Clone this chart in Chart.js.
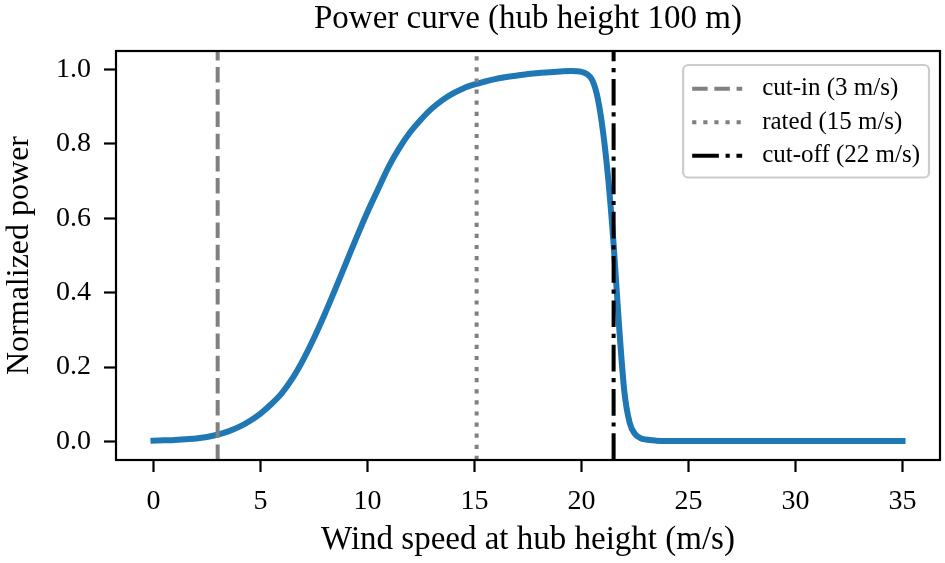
<!DOCTYPE html>
<html><head><meta charset="utf-8">
<script src="https://cdn.jsdelivr.net/npm/chart.js@4/dist/chart.umd.min.js"></script>
<style>html,body{margin:0;padding:0;background:#fff}#wrap{width:945px;height:563px}</style>
</head><body><div id="wrap"><canvas id="c" width="945" height="563"></canvas></div>
<script>
// ---- data ----
const windSpeed = [0,0.5,1,1.5,2,2.5,3,3.5,4,4.5,5,5.5,6,6.5,7,7.5,8,8.5,9,9.5,10,10.5,11,11.5,12,12.5,13,13.5,14,14.5,15,15.5,16,16.5,17,17.5,18,18.5,19,19.5,20,
  20.25,20.5,20.75,21,21.25,21.5,21.75,22,22.25,22.5,22.75,23,23.5,24,25,26,27,28,29,30,31,32,33,34,35];
const power = [0.002,0.003,0.004,0.006,0.008,0.012,0.018,0.027,0.039,0.055,0.075,0.1,0.13,0.17,0.22,0.278,0.342,0.41,0.48,0.55,0.617,0.679,0.74,0.79,0.832,0.866,0.895,0.918,0.936,0.95,0.96,0.968,0.975,0.98,0.984,0.988,0.991,0.993,0.995,0.996,0.994,
  0.988,0.972,0.925,0.835,0.705,0.53,0.315,0.135,0.05,0.02,0.009,0.005,0.002,0.001,0.001,0.001,0.001,0.001,0.001,0.001,0.001,0.001,0.001,0.001,0.001];
const markerSpeeds = [3, 15.1, 21.5];
const markerLabels = ['cut-in (3 m/s)', 'rated (15 m/s)', 'cut-off (22 m/s)'];
const xRange = [-1.75, 36.75];
const yRange = [-0.05, 1.05];
const xTickStep = 5;
const yTickStep = 0.2;
const titleText = 'Power curve (hub height 100 m)';
const xTitle = 'Wind speed at hub height (m/s)';
const yTitle = 'Normalized power';

const SERIF = '"Liberation Serif", "Times New Roman", serif';
const markerStyles = [
  {color: '#808080', dash: [15.5, 6.7]},
  {color: '#808080', dash: [4.2, 6.9]},
  {color: '#000000', dash: [26.7, 6.7, 4.2, 6.7]}
];

const datasets = [{
  label: 'power',
  data: windSpeed.map((x, i) => ({x, y: power[i]})),
  borderColor: '#1f77b4',
  borderWidth: 6,
  borderCapStyle: 'square',
  borderJoinStyle: 'round',
  pointRadius: 0,
  cubicInterpolationMode: 'monotone',
  order: 10,
  inLegend: false
}];
markerSpeeds.forEach((s, i) => {
  datasets.push({
    label: markerLabels[i],
    data: [{x: s, y: yRange[0]}, {x: s, y: yRange[1]}],
    borderColor: markerStyles[i].color,
    borderWidth: 4,
    borderDash: markerStyles[i].dash,
    borderCapStyle: 'butt',
    pointRadius: 0,
    order: 3 - i,
    inLegend: true
  });
});

const framePlugin = {
  id: 'frame',
  afterDraw(chart) {
    const {ctx, chartArea: a} = chart;
    ctx.save();
    ctx.strokeStyle = '#000';
    ctx.lineWidth = 2.2;
    ctx.strokeRect(a.left, a.top, a.right - a.left, a.bottom - a.top);
    // legend
    const fs = 25;
    ctx.font = fs + 'px ' + SERIF;
    const items = chart.data.datasets.filter(d => d.inLegend);
    const textW = Math.max(...items.map(d => ctx.measureText(d.label).width));
    const pad = 9, handle = 50, gap = 20, rowH = 33.5;
    const w = pad + handle + gap + textW + pad;
    const h = pad * 2 + rowH * items.length - 6;
    const bx = a.right - 11 - w, by = a.top + 14;
    ctx.beginPath();
    if (ctx.roundRect) ctx.roundRect(bx, by, w, h, 5); else ctx.rect(bx, by, w, h);
    ctx.fillStyle = 'rgba(255,255,255,0.8)';
    ctx.fill();
    ctx.strokeStyle = '#cccccc';
    ctx.lineWidth = 2.2;
    ctx.stroke();
    items.forEach((d, i) => {
      const cy = by + pad + rowH * i + rowH / 2 - 2;
      ctx.beginPath();
      ctx.setLineDash(d.borderDash || []);
      ctx.strokeStyle = d.borderColor;
      ctx.lineWidth = d.borderWidth;
      ctx.lineCap = 'butt';
      ctx.moveTo(bx + pad, cy);
      ctx.lineTo(bx + pad + handle, cy);
      ctx.stroke();
      ctx.setLineDash([]);
      ctx.fillStyle = '#000';
      ctx.textBaseline = 'middle';
      ctx.textAlign = 'left';
      ctx.fillText(d.label, bx + pad + handle + gap, cy);
    });
    ctx.restore();
  }
};

Chart.defaults.font.family = SERIF;
Chart.defaults.color = '#000';

new Chart(document.getElementById('c'), {
  type: 'line',
  data: {datasets},
  options: {
    responsive: false,
    animation: false,
    devicePixelRatio: 1,
    layout: {padding: {left: 0, right: 5, top: 0, bottom: 0}},
    plugins: {
      legend: {display: false},
      tooltip: {enabled: false},
      title: {display: true, fullSize: false, text: titleText, color: '#000',
        font: {family: SERIF, size: 33, weight: 'normal'}, padding: {top: 0, bottom: 11.4}}
    },
    scales: {
      x: {
        type: 'linear', min: xRange[0], max: xRange[1],
        afterFit(s) { s.height = 103; },
        grid: {display: true, drawOnChartArea: false, drawTicks: true, tickLength: 12, tickWidth: 2.2, tickColor: '#000'},
        border: {display: false},
        ticks: {stepSize: xTickStep, includeBounds: false, padding: 13, color: '#000',
          font: {family: SERIF, size: 28}, maxRotation: 0},
        title: {display: true, text: xTitle, color: '#000', font: {family: SERIF, size: 33}, padding: {top: 0, bottom: 3}}
      },
      y: {
        type: 'linear', min: yRange[0], max: yRange[1],
        afterFit(s) { s.width = 116; },
        grid: {display: true, drawOnChartArea: false, drawTicks: true, tickLength: 12, tickWidth: 2.2, tickColor: '#000'},
        border: {display: false},
        ticks: {stepSize: yTickStep, includeBounds: false, padding: 13, color: '#000',
          font: {family: SERIF, size: 28}, callback: v => (Math.round(v * 10) / 10).toFixed(1)},
        title: {display: true, text: yTitle, color: '#000', font: {family: SERIF, size: 32}, padding: {top: 0, bottom: 0}}
      }
    }
  },
  plugins: [framePlugin]
});
</script></body></html>
